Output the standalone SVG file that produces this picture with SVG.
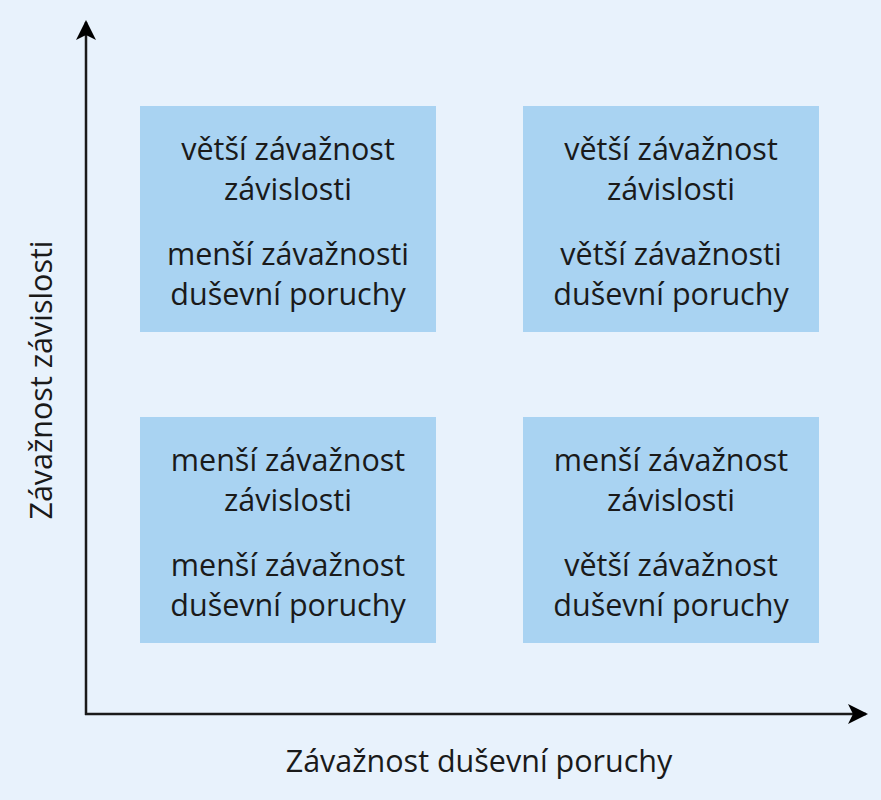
<svg xmlns="http://www.w3.org/2000/svg" width="881" height="800" viewBox="0 0 881 800">
<defs>
<style>
.box{fill:#a9d3f2}
.t{font-family:"Open Sans","Noto Sans","Liberation Sans",sans-serif;font-size:30.5px;fill:#1a1a1a;text-anchor:middle}
.ax{stroke:#1a1a1a;stroke-width:2.5;fill:none}
</style>
<marker id="ah" viewBox="0 0 20 20" refX="18" refY="10" markerWidth="20" markerHeight="20" markerUnits="userSpaceOnUse" orient="auto">
<path d="M0,0 L20,10 L0,20 L5,10 Z" fill="#000"/>
</marker>
</defs>
<rect width="881" height="800" fill="#e8f2fc"/>
<g id="connectors">
<path class="ax" d="M86,715 L86,22" marker-end="url(#ah)"/>
<path class="ax" d="M85,714 L866,714" marker-end="url(#ah)"/>
</g>
<g id="q1">
<rect class="box" x="140" y="106" width="296" height="226"/>
<text class="t" x="288" y="160">větší závažnost</text>
<text class="t" x="288" y="200">závislosti</text>
<text class="t" x="288" y="265">menší závažnosti</text>
<text class="t" x="288" y="305">duševní poruchy</text>
</g>
<g id="q2">
<rect class="box" x="523" y="106" width="296" height="226"/>
<text class="t" x="671" y="160">větší závažnost</text>
<text class="t" x="671" y="200">závislosti</text>
<text class="t" x="671" y="265">větší závažnosti</text>
<text class="t" x="671" y="305">duševní poruchy</text>
</g>
<g id="q3">
<rect class="box" x="140" y="417" width="296" height="226"/>
<text class="t" x="288" y="471">menší závažnost</text>
<text class="t" x="288" y="511">závislosti</text>
<text class="t" x="288" y="576">menší závažnost</text>
<text class="t" x="288" y="616">duševní poruchy</text>
</g>
<g id="q4">
<rect class="box" x="523" y="417" width="296" height="226"/>
<text class="t" x="671" y="471">menší závažnost</text>
<text class="t" x="671" y="511">závislosti</text>
<text class="t" x="671" y="576">větší závažnost</text>
<text class="t" x="671" y="616">duševní poruchy</text>
</g>
<g id="xlabel">
<text class="t" x="479" y="772">Závažnost duševní poruchy</text>
</g>
<g id="ylabel">
<text class="t" transform="translate(52,380) rotate(-90)">Závažnost závislosti</text>
</g>
</svg>
